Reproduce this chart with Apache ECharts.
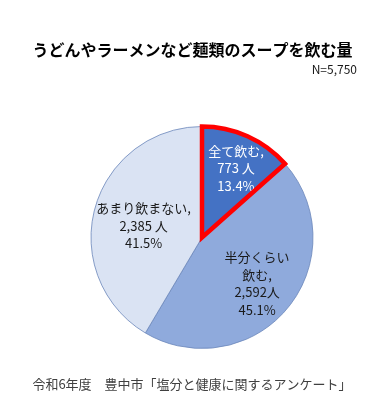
<!DOCTYPE html>
<html>
<head>
<meta charset="utf-8">
<script src="https://cdn.jsdelivr.net/npm/echarts@6/dist/echarts.min.js"></script>
<style>
html,body{margin:0;padding:0;background:#fff;}
#main{width:385px;height:407px;}
</style>
</head>
<body>
<div id="main"></div>
<script>
// ---- data ----
var categories = ['全て飲む', '半分くらい飲む', 'あまり飲まない'];
var labelNames = ['全て飲む,', '半分くらい\n飲む,', 'あまり飲まない,'];
var unitSep = [' ', '', ' '];
var values = [773, 2592, 2385];
var titleText = 'うどんやラーメンなど麺類のスープを飲む量';
var nText = 'N=5,750';
var sourceText = '令和6年度　豊中市「塩分と健康に関するアンケート」';

// ---- style ----
var colors = ['#4472C4', '#8FAADC', '#DAE3F3'];
var labelColors = ['#ffffff', '#1a1a1a', '#1a1a1a'];
var labelOffsets = [[10, -16], [10, 9], [-2, 4]];
var FONT = '"Noto Sans CJK JP", "Noto Sans", sans-serif';
var CENTER = [202, 237.5];
var RADIUS = 111;

var total = values.reduce(function (a, b) { return a + b; }, 0);

var baseData = categories.map(function (c, i) {
  return {
    name: c,
    value: values[i],
    itemStyle: { color: colors[i] },
    label: { color: labelColors[i], offset: labelOffsets[i] }
  };
});

var overlayData = categories.map(function (c, i) {
  return {
    name: c,
    value: values[i],
    itemStyle: i === 0
      ? { color: 'rgba(0,0,0,0)', borderColor: '#FF0000', borderWidth: 4.5, borderJoin: 'miter' }
      : { color: 'rgba(0,0,0,0)', borderWidth: 0 }
  };
});

var chart = echarts.init(document.getElementById('main'), null, { renderer: 'canvas' });
chart.setOption({
  backgroundColor: '#ffffff',
  animation: false,
  graphic: [
    { type: 'text', style: { text: titleText, x: 192.5, y: 50, textAlign: 'center', textVerticalAlign: 'middle', font: 'bold 16px ' + FONT, fill: '#000000' } },
    { type: 'text', style: { text: nText, x: 357, y: 69, textAlign: 'right', textVerticalAlign: 'middle', font: '12px ' + FONT, fill: '#1a1a1a' } },
    { type: 'text', style: { text: sourceText, x: 192, y: 384, textAlign: 'center', textVerticalAlign: 'middle', font: '13px ' + FONT, fill: '#404040' } }
  ],
  series: [
    {
      type: 'pie',
      center: CENTER,
      radius: RADIUS,
      startAngle: 90,
      clockwise: true,
      silent: true,
      avoidLabelOverlap: false,
      itemStyle: { borderColor: '#6B86BA', borderWidth: 0.8 },
      label: {
        show: true,
        position: 'inside',
        fontFamily: FONT,
        fontSize: 13,
        lineHeight: 17.5,
        align: 'center',
        formatter: function (p) {
          var i = p.dataIndex;
          var pct = (values[i] / total * 100).toFixed(1);
          return labelNames[i] + '\n' + values[i].toLocaleString('en-US') + unitSep[i] + '人\n' + pct + '%';
        }
      },
      labelLine: { show: false },
      data: baseData
    },
    {
      type: 'pie',
      center: CENTER,
      radius: RADIUS,
      startAngle: 90,
      clockwise: true,
      silent: true,
      z: 3,
      label: { show: false },
      labelLine: { show: false },
      data: overlayData
    }
  ]
});
</script>
</body>
</html>
